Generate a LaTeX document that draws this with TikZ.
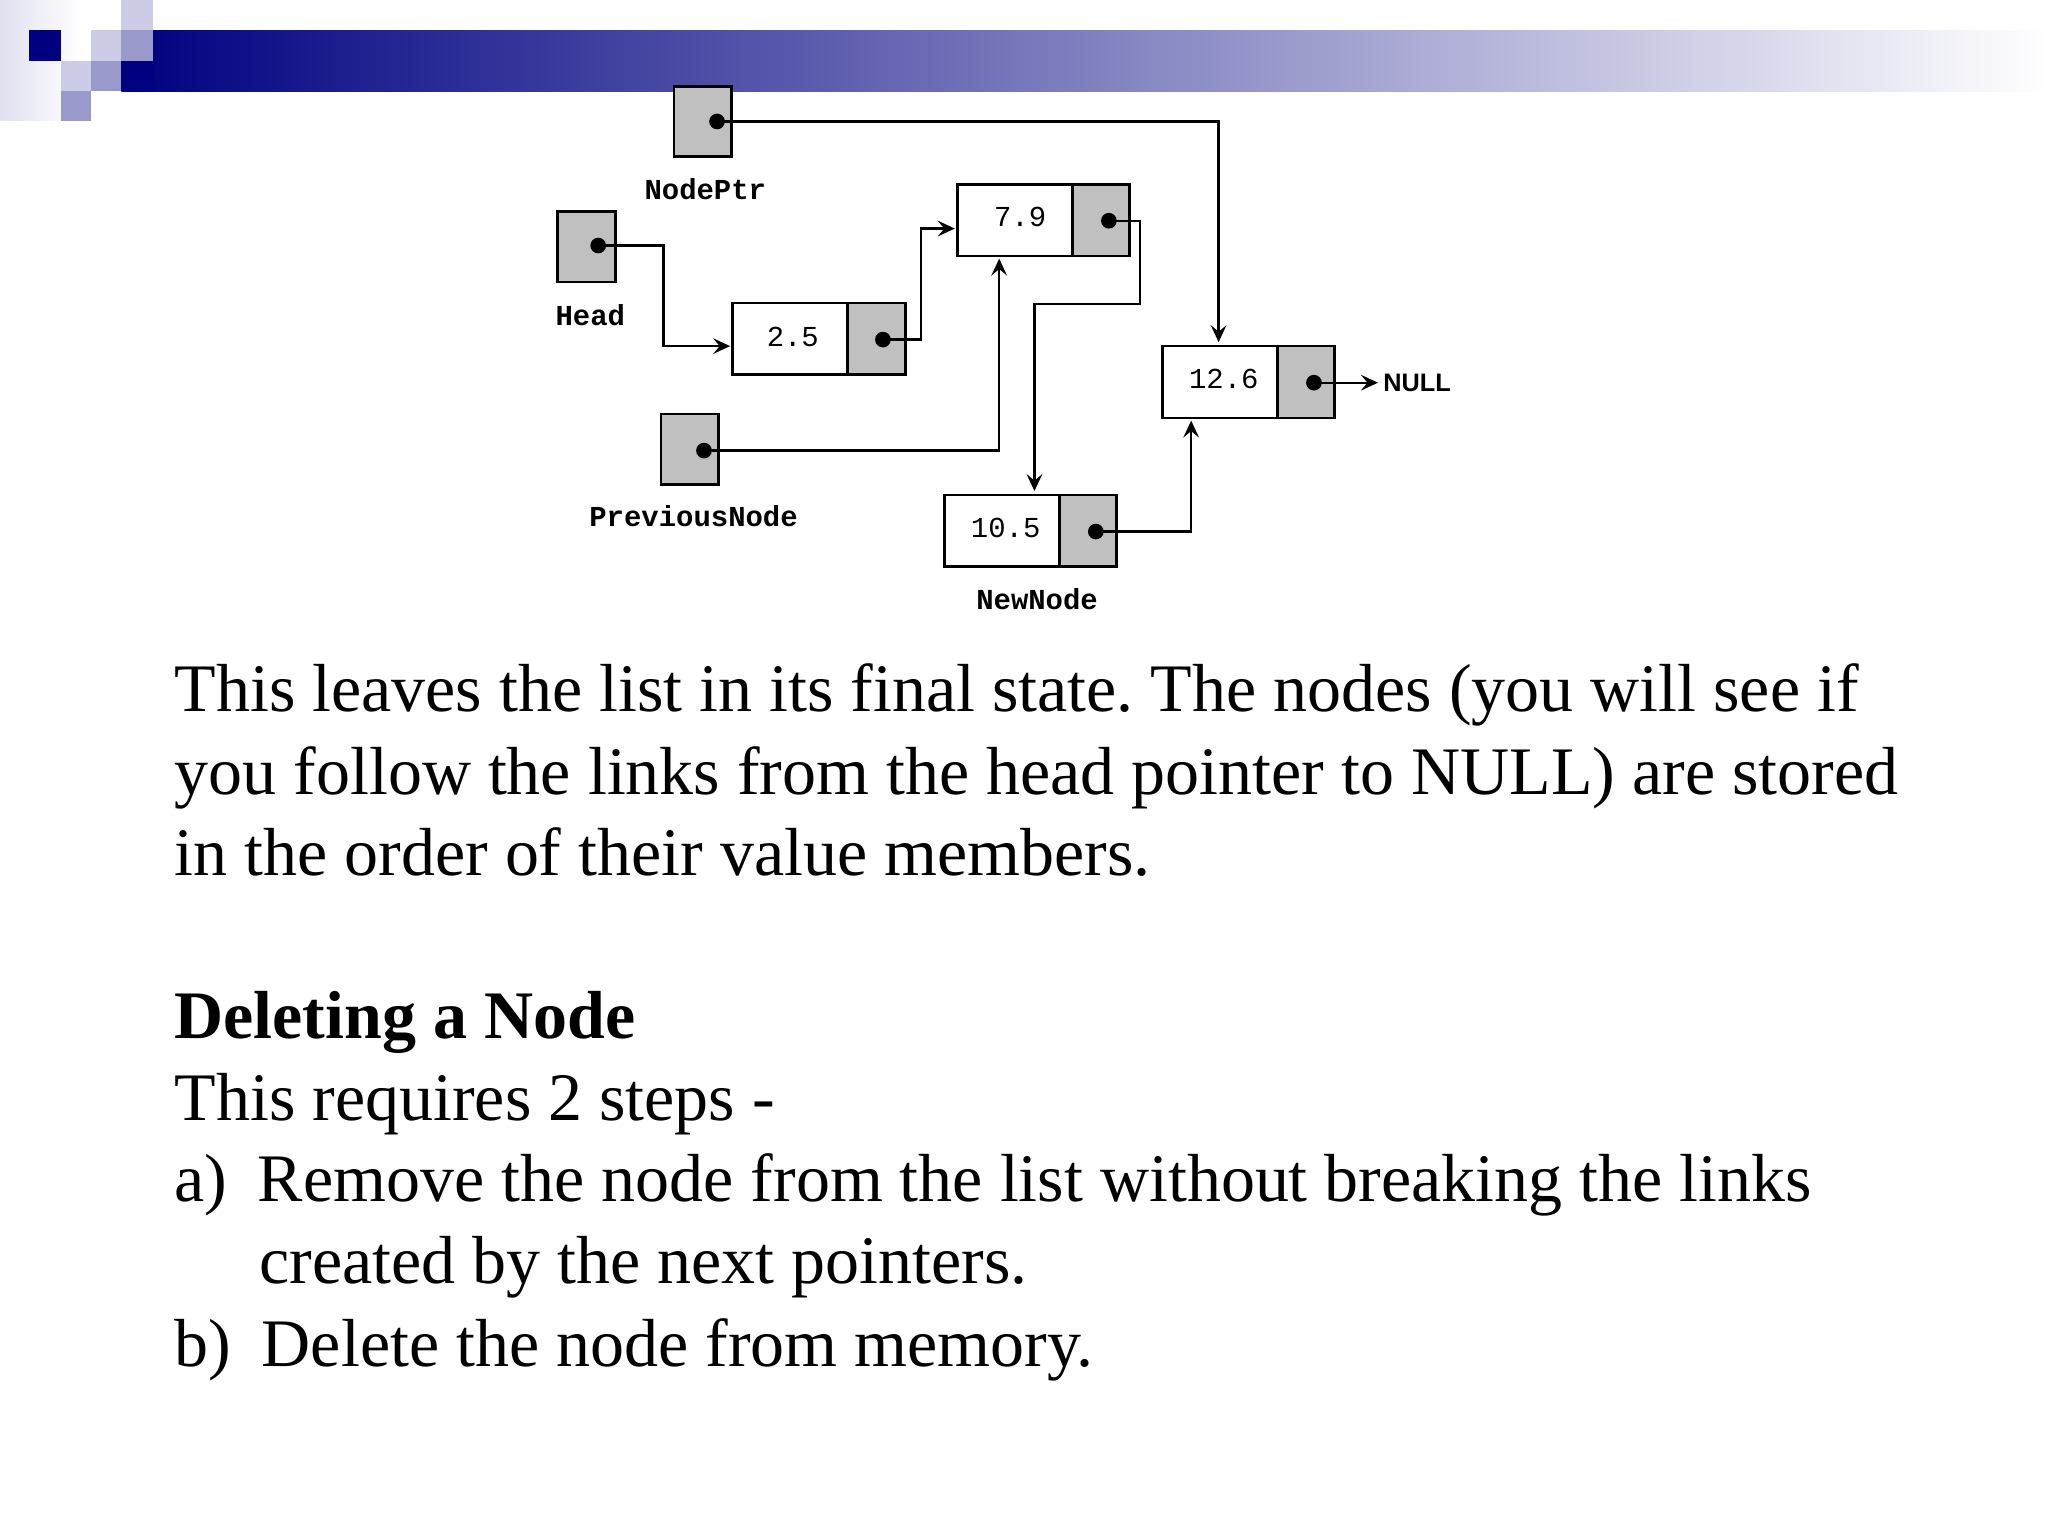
\documentclass[tikz,border=0pt]{standalone}
\usepackage{fontspec}
\setmainfont{Liberation Serif}
\newfontfamily\mono{Liberation Mono}
\newfontfamily\sans{Liberation Sans}
\usetikzlibrary{arrows.meta}
\definecolor{navy}{RGB}{0,0,128}
\definecolor{lav}{RGB}{204,204,230}
\definecolor{mlav}{RGB}{153,153,204}
\definecolor{cellgray}{RGB}{192,192,192}
\frenchspacing
\begin{document}
\begin{tikzpicture}[x=0.01cm,y=-0.01cm,
  ptr/.style={draw,fill=cellgray,line width=0.6pt},
  val/.style={draw,fill=white,line width=0.6pt},
  dot/.style={circle,fill=black,inner sep=0,minimum size=0.12cm},
  lbl/.style={font=\mono\bfseries\fontsize{6.3}{7}\selectfont},
  num/.style={font=\mono\fontsize{6.3}{7}\selectfont},
  conn/.style={line width=0.5pt,-{Stealth[length=1.3mm,width=1.2mm,inset=0.5mm]}},
  txt/.style={anchor=base west,inner sep=0,font=\fontsize{14.8}{18}\selectfont}]
\useasboundingbox (0,0) rectangle (1568,1176);
% header decoration
\shade[left color=lav!60,right color=white] (0,0) rectangle (62,92);
\shade[left color=navy,right color=white] (93,23) rectangle (1568,70);
\fill[navy] (22,23) rectangle (47,47);
\fill[lav] (70,23) rectangle (93,47);
\fill[mlav] (93,23) rectangle (117,47);
\fill[lav] (93,0) rectangle (117,23);
\fill[lav] (47,47) rectangle (70,70);
\fill[mlav] (70,47) rectangle (93,70);
\fill[navy] (93,47) rectangle (117,70);
\fill[mlav] (47,70) rectangle (70,93);
% pointer boxes
\filldraw[ptr] (516,66) rectangle (560,120);
\node[dot] (pN) at (549,93) {};
\node[lbl] (lN) at (540,145) {NodePtr};
\filldraw[ptr] (427,162) rectangle (471,216);
\node[dot] (pH) at (458,188) {};
\node[lbl] (lH) at (452,241) {Head};
\filldraw[ptr] (506,317) rectangle (550,371);
\node[dot] (pP) at (539,345) {};
\node[lbl] (lP) at (531,395) {PreviousNode};
% list nodes
\filldraw[val] (561,232) rectangle (649,287); \filldraw[ptr] (649,232) rectangle (693,287);
\node[num] (v25) at (607,258) {2.5}; \node[dot] (d25) at (676,260) {};
\filldraw[val] (733,141) rectangle (821,196); \filldraw[ptr] (821,141) rectangle (865,196);
\node[num] (v79) at (781,166) {7.9}; \node[dot] (d79) at (849,169) {};
\filldraw[val] (890,265) rectangle (978,320); \filldraw[ptr] (978,265) rectangle (1022,320);
\node[num] (v126) at (937,290) {12.6}; \node[dot] (d126) at (1006,293) {};
\filldraw[val] (723,379) rectangle (811,434); \filldraw[ptr] (811,379) rectangle (855,434);
\node[num] (v105) at (770,404) {10.5}; \node[dot] (d105) at (839,407) {};
\node[lbl] (lNew) at (794,459) {NewNode};
\node[font=\sans\bfseries\fontsize{5.5}{7}\selectfont,anchor=west,inner sep=1pt] (null) at (1055,293) {NULL};
\coordinate (a126) at (933,262);
\coordinate (a25) at (559,265);
\coordinate (a79) at (731,175);
\coordinate (a105) at (792,376);
\coordinate (b79) at (765,198);
\coordinate (b126) at (912,322);
% connectors
\draw[conn] (pN.center) -| (a126);
\draw[conn] (pH.center) -- (508,188) |- (a25);
\draw[conn] (d25.center) -- (705,260) |- (a79);
\draw[conn] (d79.center) -- (873,169) -- (873,233) -| (a105);
\draw[conn] (pP.center) -| (b79);
\draw[conn] (d105.center) -| (b126);
\draw[conn] (d126.center) -- (null.west);
% text
\node[txt] (t1) at (133,545) {This leaves the list in its final state. The nodes (you will see if};
\node[txt] (t2) at (133,608) {you follow the links from the head pointer to NULL) are stored};
\node[txt] (t3) at (133,670) {in the order of their value members.};
\node[txt,font=\bfseries\fontsize{14.8}{18}\selectfont] (t4) at (133,795) {Deleting a Node};
\node[txt] (t5) at (133,858) {This requires 2 steps -};
\node[txt] (t6) at (133,920) {a)\hspace{0.45em}Remove the node from the list without breaking the links};
\node[txt] (t7) at (198,983) {created by the next pointers.};
\node[txt] (t8) at (133,1046) {b)\hspace{0.45em}Delete the node from memory.};
\end{tikzpicture}
\end{document}
